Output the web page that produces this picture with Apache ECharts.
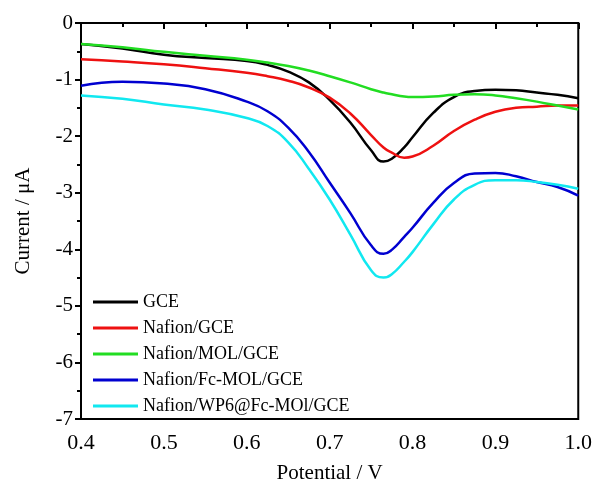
<!DOCTYPE html>
<html>
<head>
<meta charset="utf-8">
<script src="https://cdn.jsdelivr.net/npm/echarts@6/dist/echarts.min.js"></script>
<style>html,body{margin:0;padding:0;background:#fff;}#c{width:595px;height:489px;}</style>
</head>
<body>
<div id="c"></div>
<script>
const potential = [0.40,0.45,0.50,0.55,0.60,0.625,0.65,0.675,0.70,0.725,0.75,0.765,0.775,0.79,0.80,0.825,0.85,0.875,0.90,0.925,0.95,0.975,1.00];
const gce      = [-0.37,-0.45,-0.56,-0.62,-0.67,-0.74,-0.86,-1.05,-1.36,-1.76,-2.25,-2.45,-2.40,-2.20,-2.02,-1.59,-1.31,-1.20,-1.18,-1.19,-1.23,-1.27,-1.33];
const nafion   = [-0.64,-0.68,-0.73,-0.80,-0.88,-0.94,-1.02,-1.14,-1.32,-1.60,-1.98,-2.20,-2.29,-2.38,-2.36,-2.17,-1.91,-1.71,-1.57,-1.50,-1.48,-1.46,-1.46];
const mol      = [-0.37,-0.43,-0.51,-0.58,-0.65,-0.70,-0.76,-0.84,-0.94,-1.05,-1.17,-1.23,-1.26,-1.30,-1.31,-1.30,-1.27,-1.26,-1.28,-1.33,-1.39,-1.46,-1.53];
const fcmol    = [-1.11,-1.04,-1.07,-1.17,-1.39,-1.56,-1.85,-2.28,-2.82,-3.36,-3.93,-4.08,-4.01,-3.78,-3.62,-3.18,-2.83,-2.66,-2.65,-2.71,-2.81,-2.90,-3.05];
const wp6      = [-1.28,-1.34,-1.44,-1.53,-1.68,-1.82,-2.11,-2.58,-3.12,-3.74,-4.37,-4.50,-4.44,-4.22,-4.05,-3.56,-3.12,-2.86,-2.78,-2.78,-2.81,-2.86,-2.93];
const seriesNames = ['GCE','Nafion/GCE','Nafion/MOL/GCE','Nafion/Fc-MOL/GCE','Nafion/WP6@Fc-MOl/GCE'];
const seriesValues = [gce, nafion, mol, fcmol, wp6];
const colors = ['#000000','#ee1111','#22dd22','#0000d0','#11e8f0'];

const font = '"Liberation Serif","Times New Roman",serif';
const chart = echarts.init(document.getElementById('c'), null, {renderer:'canvas'});
chart.setOption({
  animation:false,
  backgroundColor:'#fff',
  grid:{left:81,right:15,top:23,bottom:63,show:true,borderColor:'#000',borderWidth:2,backgroundColor:'transparent'},
  legend:{
    left:88, top:287, orient:'vertical', icon:'rect', itemWidth:45, itemHeight:3, itemGap:6,
    textStyle:{fontFamily:font,fontSize:18,color:'#000',lineHeight:20},
    data:seriesNames
  },
  xAxis:{
    type:'value', min:0.4, max:1.0, interval:0.1,
    name:'Potential / V', nameLocation:'middle', nameGap:44,
    nameTextStyle:{fontFamily:font,fontSize:21,color:'#000'},
    axisLine:{lineStyle:{color:'#000',width:2}},
    axisTick:{show:true,length:6,lineStyle:{color:'#000',width:2}},
    minorTick:{show:true,splitNumber:2,length:4,lineStyle:{color:'#000',width:2}},
    splitLine:{show:false},
    axisLabel:{fontFamily:font,fontSize:22,color:'#000',margin:13,formatter:v=>v.toFixed(1)}
  },
  yAxis:{
    type:'value', min:-7, max:0, interval:1,
    name:'Current / μA', nameLocation:'middle', nameGap:47, nameRotate:90,
    nameTextStyle:{fontFamily:font,fontSize:21,color:'#000'},
    axisLine:{lineStyle:{color:'#000',width:2}},
    axisTick:{show:true,length:6,lineStyle:{color:'#000',width:2}},
    minorTick:{show:true,splitNumber:2,length:4,lineStyle:{color:'#000',width:2}},
    splitLine:{show:false},
    axisLabel:{fontFamily:font,fontSize:21,color:'#000',margin:8}
  },
  series: seriesNames.map((n,i)=>({
    name:n, type:'line', smooth:0.5, symbol:'none',
    lineStyle:{color:colors[i],width:2.5}, itemStyle:{color:colors[i]},
    data: potential.map((x,j)=>[x, seriesValues[i][j]])
  }))
});
</script>
</body>
</html>
